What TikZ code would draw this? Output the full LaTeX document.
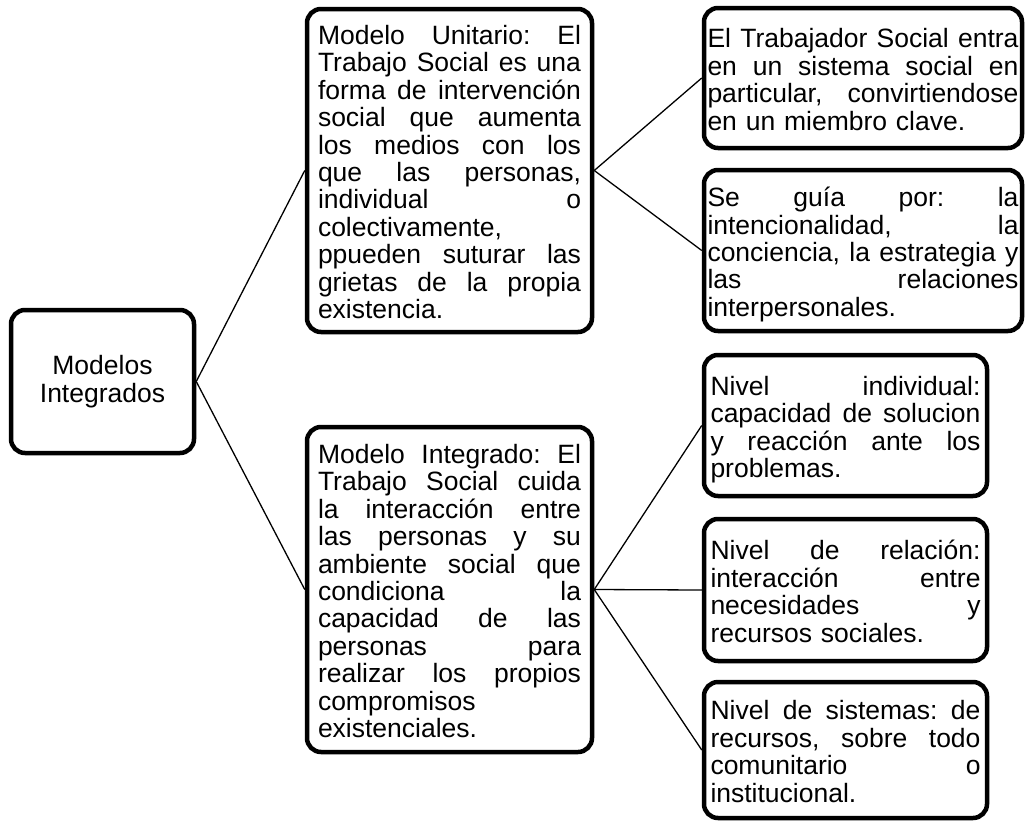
\documentclass[tikz,border=0pt]{standalone}
\usepackage{fontspec}
\setmainfont{Liberation Sans}
\newcommand\mystrut{\rule[-5.5pt]{0pt}{25pt}}
\newcommand\jl[1]{\par\hbox to\hsize{\frenchspacing\mystrut\spaceskip=0.278em plus 1fil\relax #1}}
\newcommand\el[1]{\par\hbox{\frenchspacing\mystrut #1}}
\tikzset{
  box/.style={draw, line width=4.5pt, rounded corners=14pt, inner sep=0pt,
    font=\fontsize{26.5}{27.4}\selectfont},
  link/.style={line width=1.3pt}
}
\begin{document}
\begin{tikzpicture}[x=1pt,y=-1pt]
\path[use as bounding box] (0,0) rectangle (1025,822);

\node[box, minimum width=183pt, minimum height=143pt, align=center] (R) at (102.5,381.5) {Modelos\\Integrados};

\node[box, minimum width=285pt, minimum height=323pt, text width=263pt] (A) at (449.5,170.5) {%
\jl{Modelo Unitario: El}%
\jl{Trabajo Social es una}%
\jl{forma de intervención}%
\jl{social que aumenta}%
\jl{los medios con los}%
\jl{que las personas,}%
\jl{individual o}%
\el{colectivamente,}%
\jl{ppueden suturar las}%
\jl{grietas de la propia}%
\el{existencia.}};

\node[box, minimum width=285pt, minimum height=325pt, text width=263pt] (B) at (449.5,589.5) {%
\jl{Modelo Integrado: El}%
\jl{Trabajo Social cuida}%
\jl{la interacción entre}%
\jl{las personas y su}%
\jl{ambiente social que}%
\jl{condiciona la}%
\jl{capacidad de las}%
\jl{personas para}%
\jl{realizar los propios}%
\el{compromisos}%
\el{existenciales.}};

\node[box, minimum width=318pt, minimum height=140pt, text width=311pt] (A1) at (863,78) {%
\jl{El Trabajador Social entra}%
\jl{en un sistema social en}%
\jl{particular, convirtiendose}%
\el{en un miembro clave.}};

\node[box, minimum width=318pt, minimum height=161pt, text width=311pt] (A2) at (863,250.5) {%
\jl{Se guía por: la}%
\jl{intencionalidad, la}%
\jl{conciencia, la estrategia y}%
\jl{las relaciones}%
\el{interpersonales.}};

\node[box, minimum width=283pt, minimum height=141pt, text width=270pt] (B1) at (845.5,425.5) {%
\jl{Nivel individual:}%
\jl{capacidad de solucion}%
\jl{y reacción ante los}%
\el{problemas.}};

\node[box, minimum width=283pt, minimum height=142pt, text width=270pt] (B2) at (845.5,590) {%
\jl{Nivel de relación:}%
\jl{interacción entre}%
\jl{necesidades y}%
\el{recursos sociales.}};

\node[box, minimum width=283pt, minimum height=136pt, text width=270pt] (B3) at (845.5,750) {%
\jl{Nivel de sistemas: de}%
\jl{recursos, sobre todo}%
\jl{comunitario o}%
\el{institucional.}};

\draw[link] (R.east) -- (A.west);
\draw[link] (R.east) -- (B.west);
\draw[link] (A.east) -- (A1.west);
\draw[link] (A.east) -- (A2.west);
\draw[link] (B.east) -- (B1.west);
\draw[link] (B.east) -- (B2.west);
\draw[link] (B.east) -- (B3.west);
\end{tikzpicture}
\end{document}
